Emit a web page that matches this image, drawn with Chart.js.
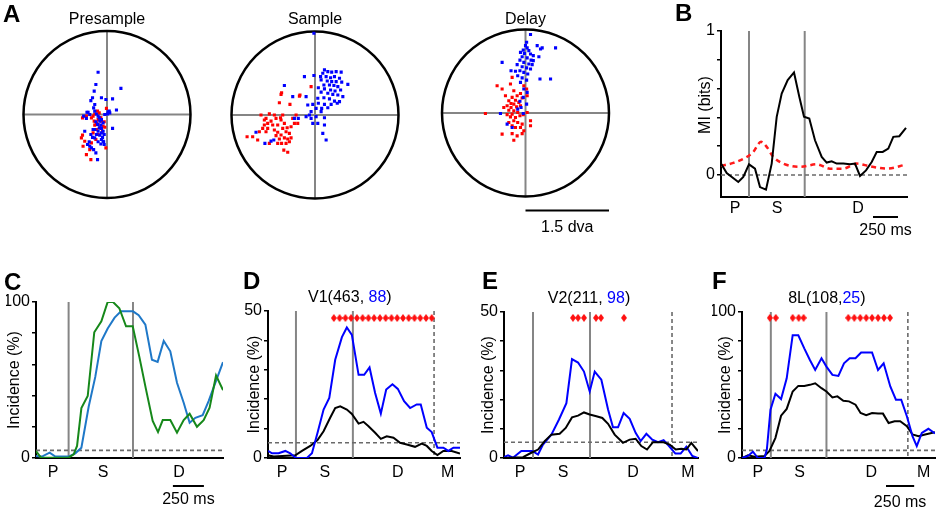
<!DOCTYPE html>
<html>
<head>
<meta charset="utf-8">
<script src="https://cdn.jsdelivr.net/npm/chart.js@4.4.0/dist/chart.umd.min.js"></script>
<style>
  body { margin: 0; background: #fff; overflow: hidden; }
  #fig { position: relative; width: 939px; height: 510px; }
  #fig canvas { position: absolute; left: 0; top: 0; }
</style>
</head>
<body>
<div id="fig"></div>
<script>
// ---- panel A: eye positions (dva), [x, y] ----
const fieldRadius = 1.5;
const presampleBlue = [[-0.16,0.76],[-0.20,0.54],[-0.23,0.42],[-0.26,0.30],[-0.29,0.25],[-0.10,0.30],[-0.02,0.27],[0.10,0.28],[0.25,0.47],[0.17,0.08],[0.02,0.05],[0.05,0.03],[-0.36,0.04],[-0.34,0.04],[-0.31,0.00],[-0.22,0.06],[-0.19,0.01],[-0.16,-0.03],[-0.14,-0.06],[-0.10,-0.09],[-0.13,-0.12],[-0.07,-0.15],[-0.20,-0.13],[-0.17,-0.18],[-0.11,-0.19],[-0.14,-0.24],[-0.10,-0.25],[-0.07,-0.30],[-0.16,-0.30],[-0.22,-0.27],[-0.10,-0.33],[-0.05,-0.36],[-0.13,-0.37],[-0.19,-0.36],[-0.08,-0.41],[-0.10,-0.45],[-0.06,-0.49],[-0.11,-0.53],[-0.16,-0.49],[-0.22,-0.42],[-0.29,-0.36],[-0.32,-0.49],[-0.35,-0.54],[-0.31,-0.57],[-0.28,-0.60],[-0.24,-0.63],[-0.20,-0.69],[-0.17,-0.81],[-0.25,-0.27],[0.10,-0.25],[-0.04,0.00],[0.01,0.01],[0.04,0.06],[-0.24,0.12],[-0.22,0.18],[-0.42,-0.03],[-0.37,-0.07],[-0.07,-0.48],[-0.05,-0.54],[-0.26,-0.41],[-0.40,-0.30]];
const presampleRed = [[-0.01,0.11],[-0.22,0.01],[-0.25,-0.03],[-0.28,-0.06],[-0.37,-0.03],[-0.44,-0.06],[-0.13,-0.06],[-0.16,-0.09],[-0.10,-0.12],[-0.19,-0.15],[-0.16,-0.18],[-0.22,-0.19],[-0.13,-0.24],[-0.07,-0.21],[-0.04,-0.23],[-0.19,-0.27],[-0.25,-0.33],[-0.16,-0.36],[-0.44,-0.37],[-0.46,-0.42],[-0.40,-0.48],[-0.34,-0.54],[-0.43,-0.57],[-0.31,-0.63],[-0.29,-0.81],[-0.37,-0.72],[-0.02,-0.60],[-0.23,-0.12],[-0.08,-0.30],[-0.17,0.06],[-0.14,0.03],[-0.05,-0.13],[-0.20,-0.45],[-0.28,-0.51],[-0.11,-0.06]];
const sampleBlue = [[0.17,0.81],[0.23,0.78],[0.14,0.75],[0.30,0.77],[0.38,0.78],[0.47,0.77],[0.10,0.69],[0.20,0.69],[0.28,0.67],[0.35,0.69],[0.44,0.66],[0.11,0.63],[0.22,0.61],[0.30,0.60],[0.38,0.60],[0.48,0.59],[0.16,0.54],[0.26,0.54],[0.34,0.53],[0.41,0.51],[0.59,0.55],[0.06,0.49],[0.17,0.47],[0.28,0.45],[0.36,0.43],[0.46,0.45],[0.11,0.41],[0.23,0.39],[0.32,0.37],[0.41,0.36],[0.50,0.33],[0.05,0.30],[0.16,0.31],[0.26,0.29],[0.35,0.25],[0.44,0.24],[0.06,0.21],[0.17,0.19],[0.29,0.19],[0.40,0.21],[-0.13,0.18],[-0.04,0.19],[0.02,0.12],[0.12,0.12],[0.23,0.13],[-0.19,0.69],[-0.02,0.71],[-0.55,0.53],[-0.40,0.33],[-0.16,0.33],[-0.10,0.00],[-0.16,-0.03],[-0.07,-0.06],[0.02,-0.03],[0.17,-0.05],[-0.30,-0.06],[-0.04,-0.15],[0.05,-0.15],[0.17,-0.18],[0.14,-0.33],[0.20,-0.45],[-1.06,-0.31],[-0.90,-0.51],[-0.74,-0.45],[-0.79,-0.47],[-0.37,-0.06],[0.11,0.06],[-0.07,0.06],[-0.02,1.47]];
const sampleRed = [[-0.07,0.51],[-0.28,0.34],[-0.45,0.19],[-0.61,0.37],[-0.64,0.22],[-0.73,0.00],[-0.82,0.02],[-0.97,0.00],[-0.91,-0.09],[-0.85,-0.15],[-0.88,-0.06],[-0.79,-0.11],[-0.70,-0.06],[-0.61,-0.09],[-0.55,-0.15],[-0.67,-0.18],[-0.76,-0.18],[-0.85,-0.24],[-0.94,-0.24],[-1.00,-0.30],[-0.88,-0.30],[-0.73,-0.27],[-0.67,-0.31],[-0.58,-0.24],[-0.52,-0.30],[-0.46,-0.33],[-0.61,-0.36],[-0.70,-0.37],[-0.55,-0.41],[-0.64,-0.43],[-0.49,-0.43],[-0.43,-0.41],[-0.60,-0.51],[-0.52,-0.51],[-0.67,-0.51],[-0.46,-0.48],[-0.56,-0.63],[-0.49,-0.67],[-1.03,-0.45],[-1.12,-0.39],[-1.22,-0.39],[-0.82,-0.51],[-0.40,-0.06],[-0.37,-0.15],[-0.43,-0.21],[-0.50,-0.23],[-0.31,-0.15],[-0.34,0.00],[-0.58,0.00],[-0.62,-0.05],[-0.91,-0.18],[-0.60,0.40],[-0.27,0.36]];
const delayBlue = [[0.09,1.41],[0.02,1.27],[0.00,1.21],[0.03,1.17],[-0.04,1.13],[0.06,1.12],[-0.02,1.07],[-0.09,1.09],[0.09,1.06],[0.14,1.03],[-0.06,1.01],[0.03,0.99],[0.10,0.95],[-0.10,0.95],[-0.03,0.91],[0.06,0.88],[0.12,0.87],[-0.15,0.87],[-0.06,0.83],[0.02,0.81],[0.09,0.79],[-0.10,0.76],[-0.03,0.73],[0.04,0.70],[-0.18,0.75],[-0.26,0.76],[-0.14,0.67],[-0.06,0.63],[0.02,0.59],[-0.09,0.55],[-0.42,0.91],[0.21,1.21],[0.27,1.15],[0.30,1.17],[0.24,1.01],[0.14,0.94],[0.26,0.61],[0.45,0.61],[0.54,1.17],[-0.03,0.43],[0.03,0.37],[-0.04,0.28],[-0.10,0.21],[0.02,0.16],[-0.14,0.07],[-0.04,-0.01],[-0.45,-0.01],[-0.33,-0.20],[-0.24,-0.26],[-0.08,0.10]];
const delayRed = [[-0.24,0.64],[-0.27,0.52],[-0.51,0.49],[-0.42,0.43],[-0.21,0.40],[-0.03,0.49],[0.02,0.43],[-0.09,0.35],[0.03,0.31],[-0.15,0.31],[-0.24,0.28],[-0.06,0.27],[-0.18,0.23],[-0.30,0.22],[-0.12,0.19],[-0.21,0.16],[-0.33,0.13],[-0.26,0.10],[-0.16,0.11],[-0.09,0.13],[-0.30,0.05],[-0.21,0.04],[-0.14,0.01],[-0.24,-0.02],[-0.33,-0.03],[-0.27,-0.07],[-0.18,-0.08],[-0.10,-0.05],[-0.04,-0.03],[-0.21,-0.14],[-0.30,-0.17],[-0.14,-0.17],[-0.06,-0.20],[-0.24,-0.23],[-0.18,-0.26],[-0.09,-0.26],[0.09,-0.14],[0.09,-0.23],[-0.03,-0.32],[-0.42,-0.38],[-0.24,-0.37],[-0.15,-0.41],[-0.06,-0.37],[-0.21,-0.49],[-0.72,-0.01],[-0.36,0.31],[0.03,0.01],[-0.39,0.10],[-0.26,0.17]];

// ---- panel B: mutual information (bits) vs time (ms) ----
const bMiTime = [0,57,173,223,280,340,390,450,507,557,607,667,730,783,830,883,940,1007,1057,1107,1157,1223,1290,1340,1390,1450,1507,1557,1617,1673,1723,1783,1850];
const bMiBits = [0.079,0.014,-0.049,-0.014,0.074,0.044,-0.084,-0.102,0.079,0.404,0.566,0.659,0.712,0.543,0.404,0.392,0.241,0.125,0.086,0.095,0.079,0.079,0.074,0.079,-0.007,0.032,0.090,0.160,0.160,0.183,0.265,0.269,0.327];
const bShuffleTime = [0,123,257,323,400,457,523,623,790,957,1090,1223,1357,1490,1657,1850];
const bShuffleBits = [0.063,0.084,0.125,0.160,0.230,0.195,0.125,0.079,0.056,0.074,0.044,0.044,0.079,0.060,0.044,0.072];

// ---- panel C: incidence (%) ----
const cBlueTime = [0,48,110,156,263,317,366,425,478,527,578,634,685,782,828,882,935,981,1030,1083,1137,1191,1239,1285,1344,1392,1446,1508];
const cBlueInc = [1.3,0.9,3.4,0.9,0.9,3,6.6,33,52,75,83,90,94,94,91.5,85.5,63,61.6,75,68.4,48.2,35.4,22.6,25.8,27.5,36.5,48.2,61.4];
const cGreenTime = [0,40,263,304,331,366,417,470,527,578,621,672,726,780,833,887,941,984,1022,1083,1137,1191,1239,1298,1352,1400,1452,1508];
const cGreenInc = [4.5,0.2,0.2,2.3,7.7,32,39.7,80.6,87.6,100,100,96,84.4,84.4,65,44,23.7,16.6,24.3,24.3,16.2,24.3,28.4,20,24.3,32.2,52.9,43.5];

// ---- panel D: V1 ----
const dBlueTime = [0,36,95,155,199,250,348,393,443,497,548,601,661,705,750,810,860,908,958,1009,1057,1113,1161,1217,1271,1330,1366,1420,1464,1515,1568,1613,1658,1717];
const dBlueInc = [2.4,1.6,1.6,2.4,1.6,0,0,1.6,8.6,16.5,20.4,33.4,41.1,44.4,41.9,28.3,28.3,30.8,22.1,15.1,23.3,25.1,23.5,19.3,17.0,18.2,18.2,10.3,8.8,3.5,3.5,2.4,3.5,3.5];
const dBlackTime = [0,51,244,304,378,443,497,556,601,646,705,750,810,854,899,958,1009,1062,1122,1181,1241,1315,1375,1420,1464,1515,1568,1643,1717];
const dBlackInc = [0.9,0.5,0.9,2.4,4.1,6.1,9.1,13.7,17.0,17.6,16.5,15.0,11.7,12.3,10.8,8.6,6.5,7.4,6.9,5.2,4.6,3.8,4.9,4.1,2.4,1.0,2.4,2.4,1.5];
const dSigTime = [589,640,692,743,795,846,898,949,1001,1052,1104,1155,1207,1258,1310,1361,1413,1464];

// ---- panel E: V2 ----
const eBlueTime = [0,36,80,155,253,304,348,423,491,557,607,661,714,765,810,869,929,973,1018,1068,1122,1175,1220,1271,1324,1375,1425,1473,1530,1577,1628,1681,1732];
const eBlueInc = [0.3,0.9,0.1,2.4,2.4,1.2,4.6,8.0,13.2,18.8,33.9,32.7,29.6,22.8,29.6,26.8,16.6,10.5,10.5,15.4,13.4,8.6,5.8,8.3,6.3,5.4,6.1,4.1,1.5,1.5,3.9,0.7,0];
const eBlackTime = [0,170,244,304,363,423,497,551,607,661,714,765,825,878,929,988,1062,1122,1175,1226,1277,1330,1425,1479,1533,1583,1628,1672,1732];
const eBlackInc = [0,0.3,1.8,2.9,5.8,8.0,8.3,10.3,13.9,14.5,15.6,14.9,14.3,13.7,11.7,8.0,5.2,6.3,6.6,4.1,2.9,5.4,5.4,4.6,2.9,3.2,2.9,5.2,2.4];
const eSigTime = [616,661,714,821,866,1071];

// ---- panel F: 8L ----
const fBlueTime = [0,53,97,141,200,221,253,297,347,397,450,500,553,603,650,706,750,803,856,906,956,1008,1058,1155,1208,1258,1317,1367,1414,1464,1514,1552,1597,1655,1714];
const fBlueInc = [0,1.4,4.3,0,0,5.9,33.1,44,40.4,54.6,84.1,84.1,75.1,67.1,60.3,68.3,62.6,56.9,56.2,64.9,68.3,68.3,72.3,72.3,60.3,64.9,49,39.9,39.9,28.6,15,8.2,17.2,20,16.8];
const fBlackTime = [0,53,112,200,244,297,347,397,450,500,553,603,650,706,750,803,847,900,950,1008,1053,1103,1155,1208,1252,1302,1355,1405,1464,1514,1567,1626,1714];
const fBlackInc = [0,1.8,0.9,1.4,4.8,13.8,29,33.6,45.6,49.4,49.4,50.1,51.2,47.8,45.6,41.5,42.2,39.2,38.8,36.5,30.8,29.3,30.8,30.4,30.4,24,25.2,25.2,21.8,16.1,15,16.1,17.7];
const fSigTime = [247,300,450,503,547,944,997,1050,1103,1155,1208,1261,1314];

// epoch labels
const epochLabels3 = ['P', 'S', 'D'];
const epochLabels4 = ['P', 'S', 'D', 'M'];

const FONT = '"Liberation Sans", Arial, Helvetica, sans-serif';
const W = 939, H = 510;

function seg(ctx, x0, y0, x1, y1) {
  ctx.beginPath(); ctx.moveTo(x0, y0); ctx.lineTo(x1, y1); ctx.stroke();
}
function zip(t, v) { return t.map((x, i) => ({ x: x, y: v[i] })); }
function toXY(pts) { return pts.map(p => ({ x: p[0], y: p[1] })); }
function newCanvas() {
  const c = document.createElement('canvas');
  c.width = W; c.height = H;
  document.getElementById('fig').appendChild(c);
  return c;
}
function drawLetter(ctx, l) {
  ctx.save();
  ctx.font = 'bold 24px ' + FONT;
  ctx.fillStyle = '#000'; ctx.textAlign = 'left'; ctx.textBaseline = 'alphabetic';
  ctx.fillText(l[0], l[1], l[2]);
  ctx.restore();
}

// red diamond used for significance markers
const diamond = document.createElement('canvas');
diamond.width = 6; diamond.height = 8;
(function () {
  const g = diamond.getContext('2d');
  g.fillStyle = '#ff1010';
  g.beginPath(); g.moveTo(3, 0); g.lineTo(6, 4); g.lineTo(3, 8); g.lineTo(0, 4); g.closePath(); g.fill();
})();

// ---------- panel A circles ----------
function circleChart(p) {
  const R = 83.5;
  return new Chart(newCanvas(), {
    type: 'scatter',
    data: {
      datasets: [
        { data: toXY(p.blue), backgroundColor: '#0000ff', pointBackgroundColor: '#0000ff' },
        { data: toXY(p.red), backgroundColor: '#ff0000', pointBackgroundColor: '#ff0000' }
      ]
    },
    options: {
      responsive: false, animation: false, devicePixelRatio: 1,
      layout: { padding: { left: p.cx - R, top: p.cy - R, right: W - p.cx - R, bottom: H - p.cy - R } },
      plugins: { legend: { display: false }, tooltip: { enabled: false } },
      elements: { point: { pointStyle: 'rect', radius: 2.2, borderWidth: 0 } },
      scales: {
        x: { display: false, min: -fieldRadius, max: fieldRadius },
        y: { display: false, min: -fieldRadius, max: fieldRadius }
      }
    },
    plugins: [{
      id: 'field',
      beforeDatasetsDraw(chart) {
        const ctx = chart.ctx, xs = chart.scales.x, ys = chart.scales.y;
        const cx = xs.getPixelForValue(0), cy = ys.getPixelForValue(0);
        const r = xs.getPixelForValue(fieldRadius) - cx;
        ctx.save();
        ctx.strokeStyle = '#858585'; ctx.lineWidth = 2;
        seg(ctx, cx - r, cy, cx + r, cy);
        seg(ctx, cx, cy - r, cx, cy + r);
        ctx.strokeStyle = '#000'; ctx.lineWidth = 2.5;
        ctx.beginPath(); ctx.arc(cx, cy, r, 0, Math.PI * 2); ctx.stroke();
        ctx.restore();
      },
      afterDraw(chart) {
        const ctx = chart.ctx, xs = chart.scales.x, a = chart.chartArea;
        const cx = xs.getPixelForValue(0);
        ctx.save();
        ctx.font = '16px ' + FONT; ctx.fillStyle = '#000'; ctx.textAlign = 'center';
        ctx.fillText(p.title, cx, 24);
        if (p.scaleBar) {
          const x1 = xs.getPixelForValue(fieldRadius);
          ctx.strokeStyle = '#000'; ctx.lineWidth = 2;
          seg(ctx, cx, a.bottom + 14, x1, a.bottom + 14);
          ctx.fillText('1.5 dva', (cx + x1) / 2, a.bottom + 35);
        }
        ctx.restore();
        if (p.letter) drawLetter(ctx, p.letter);
      }
    }]
  });
}

// ---------- line panels ----------
function panelDecor(p) {
  return {
    id: 'decor',
    beforeDatasetsDraw(chart) {
      const ctx = chart.ctx, a = chart.chartArea, xs = chart.scales.x, ys = chart.scales.y;
      ctx.save();
      ctx.strokeStyle = '#858585'; ctx.lineWidth = 2;
      p.epochs.forEach(t => { const x = xs.getPixelForValue(t); seg(ctx, x, a.top, x, a.bottom); });
      ctx.strokeStyle = '#6a6a6a'; ctx.lineWidth = 1.6; ctx.setLineDash([4, 3]);
      (p.dashedT || []).forEach(t => { const x = xs.getPixelForValue(t); seg(ctx, x, a.top, x, a.bottom); });
      const y0 = ys.getPixelForValue(p.chance);
      seg(ctx, a.left, y0, a.right, y0);
      ctx.restore();
    },
    afterDraw(chart) {
      const ctx = chart.ctx, a = chart.chartArea, xs = chart.scales.x;
      ctx.save();
      ctx.font = '16px ' + FONT; ctx.fillStyle = '#000'; ctx.textAlign = 'center';
      p.labelT.forEach((t, i) => ctx.fillText(p.labels[i], xs.getPixelForValue(t), a.bottom + p.labelDy));
      if (p.bar) {
        const x0 = xs.getPixelForValue(p.bar[0]), x1 = xs.getPixelForValue(p.bar[0] + p.bar[1]);
        ctx.strokeStyle = '#000'; ctx.lineWidth = 2;
        seg(ctx, x0, a.bottom + p.barDy, x1, a.bottom + p.barDy);
        ctx.fillText(p.bar[1] + ' ms', (x0 + x1) / 2, a.bottom + p.barTextDy);
      }
      // y axis title
      ctx.save();
      ctx.translate(a.left - p.yTitleDx, (a.top + a.bottom) / 2 + (p.yTitleDy || 0));
      ctx.rotate(-Math.PI / 2);
      ctx.textBaseline = 'middle';
      ctx.fillText(p.yTitle, 0, 0);
      ctx.restore();
      // panel title with coloured count
      if (p.titleParts) {
        const widths = p.titleParts.map(s => ctx.measureText(s[0]).width);
        const total = widths.reduce((s, w) => s + w, 0);
        let x = xs.getPixelForValue(p.titleT) - total / 2;
        ctx.textAlign = 'left';
        p.titleParts.forEach((s, i) => { ctx.fillStyle = s[1]; ctx.fillText(s[0], x, a.top - 9); x += widths[i]; });
      }
      ctx.restore();
      drawLetter(ctx, p.letter);
    }
  };
}

function lineChart(p) {
  const wY = 30, hX = 10;
  return new Chart(newCanvas(), {
    type: 'line',
    data: { datasets: p.datasets },
    options: {
      responsive: false, animation: false, devicePixelRatio: 1,
      layout: { padding: { left: p.left - wY, top: p.top, right: W - p.right, bottom: H - p.bottom - hX } },
      plugins: { legend: { display: false }, tooltip: { enabled: false } },
      elements: { point: { radius: 0 }, line: { tension: 0, borderWidth: 2 } },
      scales: {
        x: {
          type: 'linear', min: 0, max: p.xMax,
          afterFit: s => { s.height = hX; },
          grid: { display: false }, ticks: { display: false },
          border: { display: true, color: '#000', width: 2 }
        },
        y: {
          min: p.yMin, max: p.yMax,
          afterFit: s => { s.width = wY; },
          afterBuildTicks: s => { s.ticks = p.yTicks.map(v => ({ value: v })); },
          grid: { display: true, drawOnChartArea: false, drawTicks: true, tickLength: 4, color: '#000', lineWidth: 1.5 },
          border: { display: true, color: '#000', width: 2 },
          ticks: {
            autoSkip: false, padding: 2, color: '#000', font: { family: FONT, size: 16 },
            callback: v => p.yTickLabels.includes(v) ? String(v) : ''
          }
        }
      }
    },
    plugins: [panelDecor(p)]
  });
}

function sigSet(times, level) {
  return { data: times.map(t => ({ x: t, y: level })), showLine: false, pointStyle: diamond, pointRadius: 4, borderWidth: 0 };
}
function lineSet(t, v, color) {
  return { data: zip(t, v), borderColor: color, borderWidth: 2, fill: false };
}

// panel A
circleChart({ cx: 107, cy: 114.5, title: 'Presample', blue: presampleBlue, red: presampleRed, letter: ['A', 3, 22] });
circleChart({ cx: 315, cy: 115, title: 'Sample', blue: sampleBlue, red: sampleRed });
circleChart({ cx: 525.5, cy: 113, title: 'Delay', blue: delayBlue, red: delayRed, scaleBar: true });

// panel B
lineChart({
  left: 721, right: 907, top: 31, bottom: 197, xMax: 1860, yMin: -0.153, yMax: 1,
  yTicks: [0, 0.2, 0.4, 0.6, 0.8, 1], yTickLabels: [0, 1],
  datasets: [
    lineSet(bMiTime, bMiBits, '#000'),
    Object.assign(lineSet(bShuffleTime, bShuffleBits, '#ff1a1a'), { borderDash: [5, 4], borderWidth: 2.5, cubicInterpolationMode: 'monotone' })
  ],
  epochs: [280, 837], chance: 0,
  labels: epochLabels3, labelT: [140, 560, 1370], labelDy: 15.7,
  bar: [1520, 250], barDy: 20, barTextDy: 38,
  yTitle: 'MI (bits)', yTitleDx: 15.5, yTitleDy: -9,
  letter: ['B', 675, 21]
});

// panel C
lineChart({
  left: 36, right: 223, top: 302, bottom: 458, xMax: 1508, yMin: 0, yMax: 100,
  yTicks: [0, 20, 40, 60, 80, 100], yTickLabels: [0, 100],
  datasets: [lineSet(cGreenTime, cGreenInc, '#16881a'), lineSet(cBlueTime, cBlueInc, '#1f78c8')],
  epochs: [263, 782], chance: 4.9,
  labels: epochLabels3, labelT: [137, 540, 1153], labelDy: 19,
  bar: [1104, 250], barDy: 28, barTextDy: 46,
  yTitle: 'Incidence (%)', yTitleDx: 21,
  letter: ['C', 4, 290]
});

// panel D
lineChart({
  left: 268, right: 460, top: 311, bottom: 458, xMax: 1717, yMin: 0, yMax: 50,
  yTicks: [0, 10, 20, 30, 40, 50], yTickLabels: [0, 50],
  datasets: [sigSet(dSigTime, 47.6), lineSet(dBlueTime, dBlueInc, '#0000ff'), lineSet(dBlackTime, dBlackInc, '#000')],
  epochs: [250, 759], dashedT: [1485], chance: 5.2,
  labels: epochLabels4, labelT: [125, 509, 1161, 1607], labelDy: 19,
  yTitle: 'Incidence (%)', yTitleDx: 13,
  titleParts: [['V1(463, ', '#000'], ['88', '#0000ff'], [')', '#000']], titleT: 732,
  letter: ['D', 243, 289]
});

// panel E
lineChart({
  left: 504, right: 698, top: 312, bottom: 458, xMax: 1732, yMin: 0, yMax: 50,
  yTicks: [0, 10, 20, 30, 40, 50], yTickLabels: [0, 50],
  datasets: [sigSet(eSigTime, 48), lineSet(eBlackTime, eBlackInc, '#000'), lineSet(eBlueTime, eBlueInc, '#0000ff')],
  epochs: [259, 768], dashedT: [1500], chance: 5.4,
  labels: epochLabels4, labelT: [143, 527, 1152, 1643], labelDy: 19,
  yTitle: 'Incidence (%)', yTitleDx: 15,
  titleParts: [['V2(211, ', '#000'], ['98', '#0000ff'], [')', '#000']], titleT: 759,
  letter: ['E', 482, 289]
});

// panel F
lineChart({
  left: 742, right: 937, top: 312, bottom: 458, xMax: 1714, yMin: 0, yMax: 100,
  yTicks: [0, 20, 40, 60, 80, 100], yTickLabels: [0, 100],
  datasets: [sigSet(fSigTime, 96), lineSet(fBlueTime, fBlueInc, '#0000ff'), lineSet(fBlackTime, fBlackInc, '#000')],
  epochs: [256, 750], dashedT: [1473], chance: 5.2,
  labels: epochLabels4, labelT: [141, 512, 1147, 1614], labelDy: 19,
  bar: [1279, 250], barDy: 28, barTextDy: 49,
  yTitle: 'Incidence (%)', yTitleDx: 16,
  titleParts: [['8L(108,', '#000'], ['25', '#0000ff'], [')', '#000']], titleT: 754,
  letter: ['F', 712, 289]
});
</script>
</body>
</html>
